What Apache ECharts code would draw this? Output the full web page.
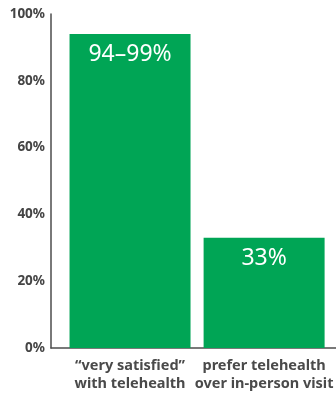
<!DOCTYPE html>
<html>
<head>
<meta charset="utf-8">
<script src="https://cdn.jsdelivr.net/npm/echarts@6/dist/echarts.min.js"></script>
<style>
  html, body { margin: 0; padding: 0; background: #fff; }
  #chart { width: 336px; height: 395px; }
</style>
</head>
<body>
<div id="chart"></div>
<script>
// data
var categories = ['\u201cvery satisfied\u201d\nwith telehealth', 'prefer telehealth\nover in-person visit'];
var values = [94, 33];
var barLabels = ['94\u201399%', '33%'];
var yTicks = [0, 20, 40, 60, 80, 100];

var chart = echarts.init(document.getElementById('chart'), null, { renderer: 'canvas' });
var font = '"Noto Sans", "Open Sans", sans-serif';

var option = {
    animation: false,
    grid: [
        // axis frame
        { left: 51, right: 0, top: 14, bottom: 47 },
        // bars
        { left: 63, right: 3, top: 14, bottom: 47 }
    ],
    xAxis: [{
        gridIndex: 0,
        type: 'category',
        data: categories,
        axisLine: { lineStyle: { color: '#4d4d4d', width: 1.5 } },
        axisTick: { show: false },
        axisLabel: { show: false }
    }, {
        gridIndex: 1,
        type: 'category',
        data: categories,
        axisLine: { show: false },
        axisTick: { show: false },
        axisLabel: {
            margin: 9,
            color: '#4a4a4a',
            fontFamily: font,
            fontWeight: 'bold',
            fontSize: 14.5,
            lineHeight: 18,
            interval: 0
        }
    }],
    yAxis: [{
        gridIndex: 0,
        type: 'value',
        min: 0,
        max: 100,
        interval: 20,
        axisLine: { show: true, lineStyle: { color: '#4d4d4d', width: 1.5 } },
        axisTick: { show: false },
        splitLine: { show: false },
        axisLabel: {
            margin: 6,
            color: '#444',
            fontFamily: font,
            fontWeight: 'bold',
            fontSize: 13.5,
            formatter: function (v) { return yTicks.indexOf(v) >= 0 ? v + '%' : ''; }
        }
    }, {
        gridIndex: 1,
        type: 'value',
        min: 0,
        max: 100,
        show: false
    }],
    series: [{
        type: 'bar',
        xAxisIndex: 1,
        yAxisIndex: 1,
        data: values,
        barWidth: 121,
        itemStyle: { color: '#00a555' },
        label: {
            show: true,
            position: 'insideTop',
            distance: 9,
            color: '#fff',
            fontFamily: font,
            fontSize: 23,
            formatter: function (p) { return barLabels[p.dataIndex]; }
        }
    }]
};

chart.setOption(option);
</script>
</body>
</html>
